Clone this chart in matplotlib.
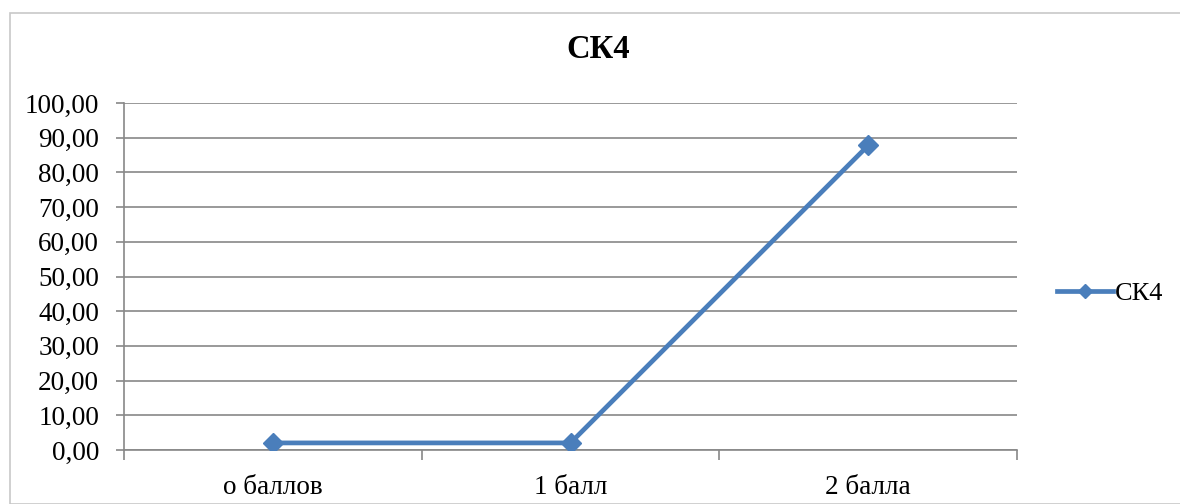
import matplotlib
matplotlib.use("Agg")
import matplotlib.pyplot as plt
from matplotlib.patches import Rectangle
from matplotlib.ticker import FuncFormatter, FixedLocator

# data
categories = ["о баллов", "1 балл", "2 балла"]
values = [2.04, 2.04, 87.76]
series_name = "СК4"
y_ticks = list(range(0, 101, 10))

plt.rcParams['font.family'] = ['Liberation Serif', 'DejaVu Serif']

W, H = 1180, 504
fig = plt.figure(figsize=(W / 100, H / 100), dpi=100)

# outer chart border
fig.patches.append(Rectangle((10 / W, 0), 1.2, 1 - 13 / H, transform=fig.transFigure,
                             fill=False, edgecolor="#c8c8c8", linewidth=1.2))

ax = fig.add_axes([124 / W, 1 - 450 / H, (1017 - 124) / W, (450 - 103) / H])

x = list(range(len(categories)))
line, = ax.plot(x, values, color="#4a7ebb", linewidth=3.4, marker="D",
                markersize=10, markerfacecolor="#4a7ebb", markeredgecolor="#4a7ebb",
                label=series_name, zorder=3)

ax.set_xlim(-0.5, len(categories) - 0.5)
ax.set_ylim(0, 100)
ax.set_yticks(y_ticks)
ax.yaxis.set_major_formatter(FuncFormatter(lambda v, p: f"{v:.2f}".replace(".", ",")))
ax.grid(axis="y", color="#888888", linewidth=1.2)
ax.set_axisbelow(True)

# category labels between boundary ticks
ax.xaxis.set_major_locator(FixedLocator([i - 0.5 for i in range(len(categories) + 1)]))
ax.xaxis.set_major_formatter(FuncFormatter(lambda v, p: ""))
ax.xaxis.set_minor_locator(FixedLocator(x))
ax.set_xticklabels(categories, minor=True)
ax.tick_params(axis="x", which="major", length=7, color="#888888", width=1.2)
ax.tick_params(axis="x", which="minor", length=0, pad=18, labelsize=19.5)
ax.tick_params(axis="y", length=6, color="#888888", width=1.2, labelsize=19.5, pad=12)

for s in ["top", "right"]:
    ax.spines[s].set_visible(False)
for s in ["left", "bottom"]:
    ax.spines[s].set_color("#888888")
    ax.spines[s].set_linewidth(1.2)

fig.text(598 / W, 1 - 50 / H, series_name, ha="center", va="center",
         fontsize=23.5, fontweight="bold")

fig.legend(handles=[line], loc="center left", bbox_to_anchor=(1044 / W, 1 - 293 / H),
           frameon=False, fontsize=19, handlelength=2.1, handletextpad=0.1, borderpad=0,
           markerscale=0.7)

fig.savefig("out.png", dpi=100)
